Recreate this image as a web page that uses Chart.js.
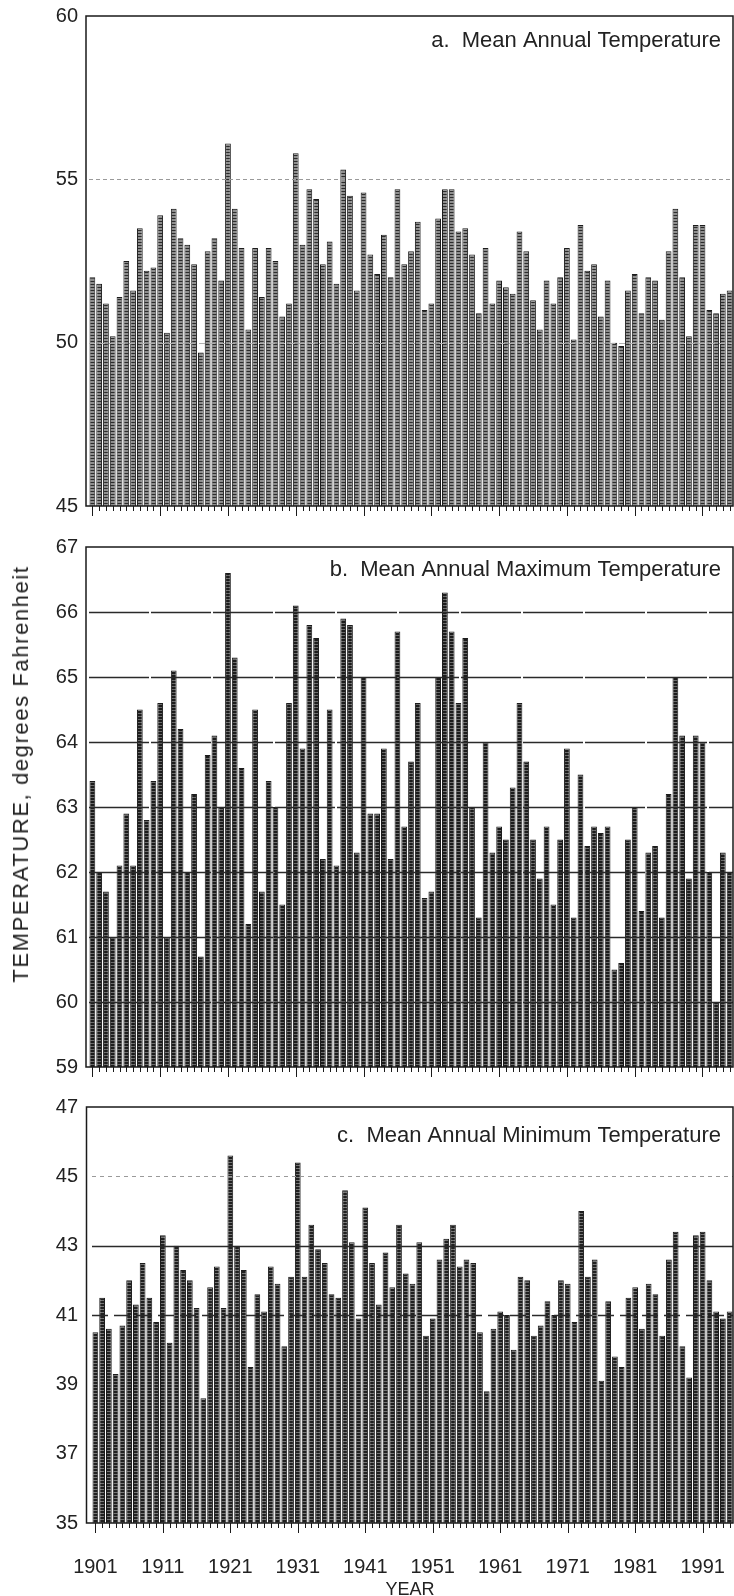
<!DOCTYPE html>
<html>
<head>
<meta charset="utf-8">
<title>Annual temperature, 1901-1995</title>
<script src="https://cdn.jsdelivr.net/npm/chart.js@4.4.1/dist/chart.umd.min.js"></script>
<style>
  html, body { margin: 0; padding: 0; background: #fff; }
  #fig { position: relative; width: 734px; height: 1596px; overflow: hidden;
         font-family: "Liberation Sans", Arial, sans-serif; color: #222; }
  .panel { position: absolute; left: 0; width: 734px; }
  #ytitle { position: absolute; left: 21px; top: 774px; white-space: nowrap; font-size: 22px;
            letter-spacing: 1.6px; transform: translate(-50%, -50%) rotate(-90deg); }
  #xtitle { position: absolute; left: 410px; top: 1589px; font-size: 18px;
            transform: translate(-50%, -50%); }
</style>
</head>
<body>
<div id="fig">
  <div class="panel" style="top:0;height:530px"><canvas id="chart-mean"></canvas></div>
  <div class="panel" style="top:530px;height:560px"><canvas id="chart-max"></canvas></div>
  <div class="panel" style="top:1090px;height:506px"><canvas id="chart-min"></canvas></div>
  <div id="ytitle">TEMPERATURE, degrees Fahrenheit</div>
  <div id="xtitle">YEAR</div>
</div>
<script>
Chart.defaults.font.family = '"Liberation Sans", Arial, sans-serif';
Chart.defaults.color = '#222';

/* ---------- data ---------- */
const years = Array.from({ length: 95 }, (_, i) => 1901 + i);   // 1901..1995
const majorYears = [1901, 1911, 1921, 1931, 1941, 1951, 1961, 1971, 1981, 1991];

const meanTemp = [
  52.0, 51.8, 51.2, 50.2, 51.4, 52.5, 51.6, 53.5, 52.2, 52.3,
  53.9, 50.3, 54.1, 53.2, 53.0, 52.4, 49.7, 52.8, 53.2, 51.9,
  56.1, 54.1, 52.9, 50.4, 52.9, 51.4, 52.9, 52.5, 50.8, 51.2,
  55.8, 53.0, 54.7, 54.4, 52.4, 53.1, 51.8, 55.3, 54.5, 51.6,
  54.6, 52.7, 52.1, 53.3, 52.0, 54.7, 52.4, 52.8, 53.7, 51.0,
  51.2, 53.8, 54.7, 54.7, 53.4, 53.5, 52.7, 50.9, 52.9, 51.2,
  51.9, 51.7, 51.5, 53.4, 52.8, 51.3, 50.4, 51.9, 51.2, 52.0,
  52.9, 50.1, 53.6, 52.2, 52.4, 50.8, 51.9, 50.0, 49.9, 51.6,
  52.1, 50.9, 52.0, 51.9, 50.7, 52.8, 54.1, 52.0, 50.2, 53.6,
  53.6, 51.0, 50.9, 51.5, 51.6
];
const maxTemp = [
  63.4, 62.0, 61.7, 61.0, 62.1, 62.9, 62.1, 64.5, 62.8, 63.4,
  64.6, 61.0, 65.1, 64.2, 62.0, 63.2, 60.7, 63.8, 64.1, 63.0,
  66.6, 65.3, 63.6, 61.2, 64.5, 61.7, 63.4, 63.0, 61.5, 64.6,
  66.1, 63.9, 65.8, 65.6, 62.2, 64.5, 62.1, 65.9, 65.8, 62.3,
  65.0, 62.9, 62.9, 63.9, 62.2, 65.7, 62.7, 63.7, 64.6, 61.6,
  61.7, 65.0, 66.3, 65.7, 64.6, 65.6, 63.0, 61.3, 64.0, 62.3,
  62.7, 62.5, 63.3, 64.6, 63.7, 62.5, 61.9, 62.7, 61.5, 62.5,
  63.9, 61.3, 63.5, 62.4, 62.7, 62.6, 62.7, 60.5, 60.6, 62.5,
  63.0, 61.4, 62.3, 62.4, 61.3, 63.2, 65.0, 64.1, 61.9, 64.1,
  64.0, 62.0, 60.0, 62.3, 62.0
];
const minTemp = [
  40.5, 41.5, 40.6, 39.3, 40.7, 42.0, 41.3, 42.5, 41.5, 40.8,
  43.3, 40.2, 43.0, 42.3, 42.0, 41.2, 38.6, 41.8, 42.4, 41.2,
  45.6, 43.0, 42.3, 39.5, 41.6, 41.1, 42.4, 41.9, 40.1, 42.1,
  45.4, 42.1, 43.6, 42.9, 42.5, 41.6, 41.5, 44.6, 43.1, 40.9,
  44.1, 42.5, 41.3, 42.8, 41.8, 43.6, 42.2, 41.9, 43.1, 40.4,
  40.9, 42.6, 43.2, 43.6, 42.4, 42.6, 42.5, 40.5, 38.8, 40.6,
  41.1, 41.0, 40.0, 42.1, 42.0, 40.4, 40.7, 41.4, 41.0, 42.0,
  41.9, 40.8, 44.0, 42.1, 42.6, 39.1, 41.4, 39.8, 39.5, 41.5,
  41.8, 40.6, 41.9, 41.6, 40.4, 42.6, 43.4, 40.1, 39.2, 43.3,
  43.4, 42.0, 41.1, 40.9, 41.1
];

const meanTicks = [45, 50, 55, 60];
const maxTicks  = [59, 60, 61, 62, 63, 64, 65, 66, 67];
const minTicks  = [35, 37, 39, 41, 43, 45, 47];

/* ---------- bar texture: dark stripes with light rows ---------- */
function barPattern(dark, light, lightRows) {
  const c = document.createElement('canvas');
  c.width = 2; c.height = 3;
  const g = c.getContext('2d');
  g.fillStyle = dark;  g.fillRect(0, 0, 2, 3);
  g.fillStyle = light; g.fillRect(0, 0, 2, lightRows);
  return g.createPattern(c, 'repeat');
}

/* ---------- frame, yearly ticks, reference lines, caption ---------- */
const panelDecor = {
  id: 'panelDecor',
  afterDatasetsDraw(chart, args, o) {
    const { ctx, chartArea: a, scales: { y } } = chart;
    (o.lines || []).forEach(l => {
      const py = Math.round(y.getPixelForValue(l.value)) + 0.5;
      ctx.save();
      ctx.strokeStyle = l.color; ctx.lineWidth = l.width;
      ctx.setLineDash(l.dash || []);
      ctx.beginPath(); ctx.moveTo(a.left, py); ctx.lineTo(a.right, py); ctx.stroke();
      ctx.restore();
    });
  },
  afterDraw(chart, args, o) {
    const { ctx, chartArea: a, scales: { x } } = chart;
    ctx.save();
    // box round the plot; the left side stands a little off the first bar
    ctx.strokeStyle = '#1a1a1a';
    ctx.lineWidth = 1.5;
    ctx.strokeRect(a.left - o.frameGap, a.top, a.width + o.frameGap, a.height);
    // one tick per year, longer every tenth year
    ctx.lineWidth = 1;
    years.forEach((yr, i) => {
      const px = Math.round(x.getPixelForValue(i)) + 0.5;
      ctx.beginPath();
      ctx.moveTo(px, a.bottom);
      ctx.lineTo(px, a.bottom + (majorYears.includes(yr) ? 10 : 5));
      ctx.stroke();
    });
    ctx.fillStyle = '#222';
    ctx.font = '22px "Liberation Sans", Arial, sans-serif';
    ctx.textAlign = 'right';
    ctx.textBaseline = 'middle';
    ctx.fillText(o.title, a.right - 12, a.top + o.titleOffset);
    ctx.restore();
  }
};

function panelChart(id, values, yTicks, cfg) {
  return new Chart(document.getElementById(id), {
    type: 'bar',
    data: {
      labels: years,
      datasets: [{
        data: values,
        backgroundColor: cfg.fill,
        borderColor: '#1c1c1c',
        borderWidth: { left: 1, right: 1, top: 1, bottom: 0 },
        borderSkipped: false,
        barPercentage: 0.85,
        categoryPercentage: 1
      }]
    },
    options: {
      responsive: true,
      maintainAspectRatio: false,
      animation: false,
      events: [],
      layout: { padding: { top: cfg.padTop, right: 1, left: 0, bottom: 0 } },
      plugins: {
        legend: { display: false },
        tooltip: { enabled: false },
        panelDecor: { title: cfg.title, titleOffset: cfg.titleOffset, lines: cfg.lines, frameGap: cfg.frameGap }
      },
      scales: {
        x: {
          grid: { display: false, drawTicks: true, tickLength: 10 },
          border: { display: false },
          ticks: {
            display: cfg.showYears,
            autoSkip: false,
            maxRotation: 0,
            padding: 22,
            font: { size: 20 },
            callback: (v, i) => majorYears.includes(years[i]) ? String(years[i]) : ''
          },
          afterFit: s => { s.height = cfg.xHeight; s.paddingLeft = 0; s.paddingRight = 0; }
        },
        y: {
          min: yTicks[0],
          max: yTicks[yTicks.length - 1],
          grid: { display: false, drawTicks: false },
          border: { display: false },
          ticks: { padding: cfg.yWidth - 78, font: { size: 20 } },
          afterBuildTicks: s => { s.ticks = yTicks.map(v => ({ value: v })); },
          afterFit: s => { s.width = cfg.yWidth; s.paddingTop = 0; s.paddingBottom = 0; }
        }
      }
    },
    plugins: [panelDecor]
  });
}

panelChart('chart-mean', meanTemp, meanTicks, {
  title: 'a.  Mean Annual Temperature', titleOffset: 25,
  fill: barPattern('#2c2c2c', '#8e8e8e', 2),
  padTop: 16, xHeight: 24, yWidth: 89, frameGap: 3, showYears: false,
  lines: [
    { value: 55, color: '#9a9a9a', width: 1, dash: [4, 3] },
    { value: 50, color: '#b0b0b0', width: 1, dash: [6, 4] }
  ]
});

panelChart('chart-max', maxTemp, maxTicks, {
  title: 'b.  Mean Annual Maximum Temperature', titleOffset: 23,
  fill: barPattern('#1c1c1c', '#6c6c6c', 1),
  padTop: 17, xHeight: 23, yWidth: 89, frameGap: 3, showYears: false,
  lines: [60, 61, 62, 63, 64, 65, 66].map(v => ({ value: v, color: '#2a2a2a', width: 1.4, dash: [60, 2] }))
});

panelChart('chart-min', minTemp, minTicks, {
  title: 'c.  Mean Annual Minimum Temperature', titleOffset: 29,
  fill: barPattern('#202020', '#767676', 1),
  padTop: 17, xHeight: 73, yWidth: 92, frameGap: 5.5, showYears: true,
  lines: [
    { value: 45, color: '#9a9a9a', width: 1, dash: [4, 4] },
    { value: 43, color: '#2a2a2a', width: 1.4, dash: [] },
    { value: 41, color: '#2a2a2a', width: 1.4, dash: [16, 6] }
  ]
});
</script>
</body>
</html>
